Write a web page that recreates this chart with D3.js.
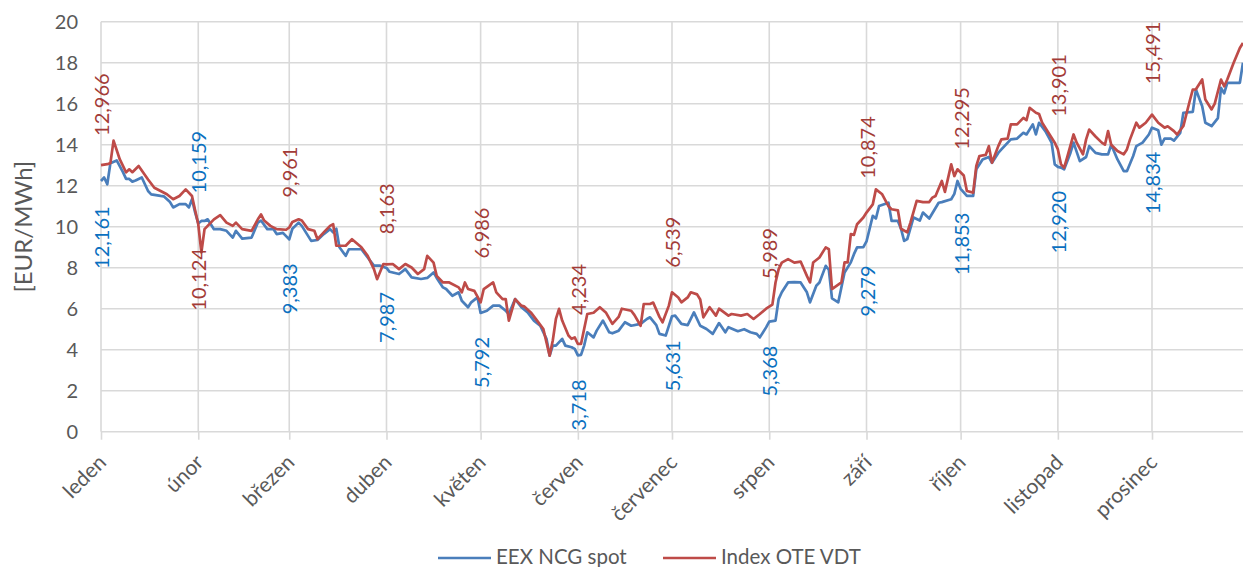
<!DOCTYPE html>
<html><head><meta charset="utf-8">
<script src="https://cdn.jsdelivr.net/npm/d3@7"></script>
<style>
body{margin:0;background:#fff}
svg{display:block}
text{font-family:Lato,"Liberation Sans",sans-serif}
</style>
</head><body>
<svg id="c" width="1243" height="567"></svg>
<script>
const months = ["leden","únor","březen","duben","květen","červen","červenec","srpen","září","říjen","listopad","prosinec"];
const monthStartDay = [0,31,60,91,121,152,182,213,244,274,305,335];
const yTicks = [0,2,4,6,8,10,12,14,16,18,20];
const seriesNames = ["EEX NCG spot","Index OTE VDT"];

// Index OTE VDT (day of year 2016, EUR/MWh)
const oteDays = [0,2,3,4,6,8,9,10,12,15,17,19,21,23,25,27,29,30,31,32,33,36,38,40,42,43,45,48,50,51,52,54,56,59,60,61,63,64,66,68,69,71,73,74,75,78,80,83,85,87,88,90,91,93,95,97,99,101,103,104,106,107,109,111,114,115,116,117,119,121,122,125,126,128,129,130,132,134,135,137,139,141,142,143,144,145,146,147,149,150,151,152,153,154,155,157,159,161,163,165,166,169,170,172,173,175,176,178,179,181,182,184,185,187,188,190,191,192,194,196,197,200,201,204,206,208,210,212,214,215,216,217,219,221,223,225,226,227,229,231,232,233,236,237,238,239,240,241,243,244,246,247,249,251,252,254,255,257,258,260,262,264,265,266,268,269,271,272,273,275,276,278,279,280,282,283,284,286,287,289,290,292,294,295,296,298,299,300,302,304,305,306,307,308,310,311,313,314,315,317,319,320,321,322,324,326,327,328,330,331,333,335,337,339,340,342,343,345,347,348,349,351,352,354,355,357,358,359,361,363,364];
const oteVals = [13.0,13.05,13.1,14.2,13.28,12.65,12.8,12.66,12.96,12.3,11.9,11.74,11.58,11.34,11.5,11.82,11.5,10.8,10.12,8.75,9.88,10.36,10.56,10.2,10.04,10.2,9.88,9.8,10.36,10.6,10.3,10.04,9.88,9.85,9.96,10.23,10.36,10.3,9.88,9.8,9.39,9.72,10.04,10.12,9.07,9.07,9.39,9.0,8.58,7.93,7.44,8.18,8.16,8.18,7.93,8.18,8.01,7.69,7.93,8.58,8.25,7.6,7.28,7.28,7.04,6.8,7.28,6.96,6.87,6.31,6.96,7.28,6.8,6.47,6.47,5.42,6.47,6.15,6.1,5.82,5.42,5.01,4.36,3.71,4.45,5.5,5.99,5.42,4.69,4.53,4.6,4.28,4.28,5.01,5.74,5.8,6.07,5.8,5.26,5.6,6.0,5.9,5.7,5.17,6.23,6.23,6.3,5.6,5.34,6.15,6.8,6.55,6.31,6.55,6.8,6.7,6.45,5.58,6.07,5.66,6.0,5.66,5.74,5.66,5.74,5.5,5.74,6.0,6.2,7.28,7.93,8.25,8.42,8.25,8.3,7.6,7.28,8.25,8.5,8.99,8.9,6.96,7.28,8.26,8.26,9.64,9.6,10.12,10.45,10.69,11.09,11.82,11.58,11.0,10.85,10.8,9.9,9.72,10.2,11.26,11.2,11.2,11.42,11.5,12.23,11.7,13.04,12.47,12.8,12.5,11.74,11.66,12.96,13.45,13.5,13.93,13.12,13.93,14.26,14.3,14.99,14.99,15.31,15.2,15.8,15.56,15.5,15.07,14.58,14.1,13.77,13.04,12.88,13.4,14.5,14.1,13.53,14.26,14.74,14.4,14.1,14.0,14.66,14.0,13.69,13.53,13.77,14.26,15.07,14.83,15.07,15.47,15.07,14.83,14.9,14.66,14.5,14.91,16.12,16.69,16.7,17.18,16.2,15.72,16.0,17.18,16.85,17.18,17.99,18.72,18.96];

// EEX NCG spot
const eexDays = [0,1,2,3,5,7,8,9,10,11,13,15,16,19,20,22,23,25,27,28,29,30,31,32,33,34,36,38,40,42,43,45,48,50,51,53,55,56,58,60,61,63,64,67,69,71,73,74,75,76,78,79,80,83,85,87,89,91,92,95,97,99,102,104,106,107,109,110,112,114,115,117,118,120,121,123,125,127,129,130,132,134,136,138,140,142,143,144,145,147,148,150,151,152,153,154,155,157,158,160,162,163,165,167,169,172,174,175,177,178,180,182,183,185,187,189,191,193,195,197,199,200,203,205,207,209,210,212,213,215,216,217,219,221,223,225,226,228,229,231,232,233,235,237,239,240,241,243,244,246,247,248,251,252,254,255,256,257,259,261,262,264,267,268,271,272,273,274,276,278,279,281,283,284,286,287,290,292,294,295,297,298,299,301,303,304,305,306,307,309,310,312,314,315,317,319,321,322,324,326,327,329,330,332,334,335,337,338,339,341,342,344,345,348,349,351,352,354,356,357,358,359,361,363,364];
const eexVals = [12.23,12.4,12.07,13.1,13.23,12.66,12.33,12.33,12.2,12.25,12.4,11.74,11.58,11.5,11.48,11.2,10.94,11.1,11.1,10.94,11.34,10.7,10.16,10.28,10.28,10.36,9.88,9.88,9.8,9.47,9.8,9.42,9.47,10.2,10.3,9.88,9.88,9.64,9.7,9.38,9.9,10.2,10.04,9.31,9.35,9.64,9.88,9.72,9.9,9.0,8.58,8.9,8.9,8.9,8.5,8.1,8.1,7.99,7.8,7.69,7.93,7.53,7.45,7.5,7.77,7.5,7.04,6.96,6.63,6.8,6.39,6.07,6.31,6.55,5.79,5.9,6.15,6.15,5.9,5.74,6.47,6.07,5.82,5.42,5.17,4.53,3.71,4.2,4.2,4.53,4.2,4.12,4.04,3.72,3.75,4.2,4.85,4.6,4.93,5.42,4.85,4.8,4.93,5.34,5.17,5.26,5.5,5.58,5.2,4.77,4.69,5.63,5.66,5.26,5.2,5.82,5.17,5.01,4.77,5.3,4.85,5.1,4.9,5.0,4.85,4.77,4.6,5.09,5.37,5.42,6.47,6.8,7.28,7.3,7.28,6.8,6.31,7.12,7.28,8.09,7.9,6.5,6.31,7.77,8.26,8.66,8.99,9.0,9.28,10.53,10.4,11.01,11.17,10.28,10.28,9.9,9.31,9.4,10.45,10.3,10.69,10.4,11.17,11.2,11.34,11.6,12.23,11.85,11.5,11.5,12.8,13.28,13.4,13.12,13.6,13.77,14.26,14.3,14.58,14.5,14.99,14.5,15.07,14.66,14.1,13.04,12.92,12.88,12.8,13.6,14.1,13.2,13.4,13.93,13.6,13.53,13.53,14.0,13.28,12.71,12.71,13.45,13.93,14.1,14.5,14.83,14.7,14.0,14.3,14.3,14.2,14.58,15.56,15.6,16.69,15.88,15.07,14.91,15.3,16.77,16.5,17.02,17.02,17.02,18.0];

// month-start data labels
const labelOte = [12.966,10.124,9.961,8.163,6.986,4.234,6.539,5.989,10.874,12.295,13.901,15.491];
const labelEex = [12.161,10.159,9.383,7.987,5.792,3.718,5.631,5.368,9.279,11.853,12.920,14.834];

const W = 1243, H = 567;
const svg = d3.select("#c");
const gridC = "#d9d9d9", textC = "#595959";
const blue = "#4a7ebb", red = "#be4b48";
const blueLbl = "#0a70c0", redLbl = "#a33b37";

const x = d3.scaleLinear().domain([0, 366]).range([101, 101 + 366 * 3.1373]);
const y = d3.scaleLinear().domain([0, 20]).range([431.7, 21.7]);

// horizontal grid
svg.append("g").selectAll("line").data(yTicks).join("line")
  .attr("x1", x(0)).attr("x2", W)
  .attr("y1", d => y(d)).attr("y2", d => y(d))
  .attr("stroke", gridC).attr("stroke-width", 1.6);

// vertical grid (month starts)
svg.append("g").selectAll("line").data(monthStartDay).join("line")
  .attr("x1", d => x(d)).attr("x2", d => x(d))
  .attr("y1", y(20)).attr("y2", y(0))
  .attr("stroke", gridC).attr("stroke-width", 1.6);

// y axis
const ya = svg.append("g").attr("transform", `translate(${x(0)},0)`)
  .call(d3.axisLeft(y).tickValues(yTicks).tickSize(0).tickPadding(23));
ya.select(".domain").remove();
ya.selectAll("text").attr("font-size", 20).attr("fill", textC).attr("font-family", "Lato, 'Liberation Sans', sans-serif");

// x axis
const xa = svg.append("g").attr("transform", `translate(0,${y(0)})`)
  .call(d3.axisBottom(x).tickValues(monthStartDay).tickSize(8).tickFormat((d, i) => months[i]));
xa.select(".domain").remove();
xa.selectAll(".tick line").attr("stroke", gridC).attr("stroke-width", 1.6);
xa.selectAll("text")
  .attr("x", 0).attr("y", 0).attr("dy", null)
  .attr("text-anchor", "end")
  .attr("transform", "translate(6,32) rotate(-45)")
  .attr("font-size", 21).attr("fill", textC).attr("font-family", "Lato, 'Liberation Sans', sans-serif");

// axis title
svg.append("text")
  .attr("transform", `translate(32,${(y(0) + y(20)) / 2}) rotate(-90)`)
  .attr("text-anchor", "middle")
  .attr("font-size", 24).attr("fill", textC)
  .text("[EUR/MWh]");

// lines
const line = d3.line().x(d => x(d[0])).y(d => y(d[1]));
const eex = eexDays.map((d, i) => [d, eexVals[i]]);
const ote = oteDays.map((d, i) => [d, oteVals[i]]);
svg.append("path").datum(eex).attr("d", line).attr("fill", "none")
  .attr("stroke", blue).attr("stroke-width", 2.7).attr("stroke-linejoin", "round");
svg.append("path").datum(ote).attr("d", line).attr("fill", "none")
  .attr("stroke", red).attr("stroke-width", 2.7).attr("stroke-linejoin", "round");

// data labels
const fmt = v => v.toFixed(3).replace(".", ",");
const lbl = svg.append("g").attr("font-size", 20);
monthStartDay.forEach((d, i) => {
  const vals = [{v: labelEex[i], c: blueLbl}, {v: labelOte[i], c: redLbl}];
  const hi = vals[0].v >= vals[1].v ? 0 : 1;
  vals.forEach((o, j) => {
    const above = j === hi;
    const py = y(o.v);
    const ty = above ? py - 30 : py + 24;
    lbl.append("text")
      .attr("transform", `translate(${x(d) + 8},${ty}) rotate(-90)`)
      .attr("text-anchor", above ? "start" : "end")
      .attr("fill", o.c)
      .text(fmt(o.v));
  });
});

// legend
const leg = svg.append("g");
const legItems = [{n: seriesNames[0], c: blue, x0: 438}, {n: seriesNames[1], c: red, x0: 663}];
legItems.forEach(it => {
  leg.append("line").attr("x1", it.x0).attr("x2", it.x0 + 53).attr("y1", 558).attr("y2", 558)
    .attr("stroke", it.c).attr("stroke-width", 2.7);
  leg.append("text").attr("x", it.x0 + 58).attr("y", 564)
    .attr("font-size", 20.5).attr("fill", textC).text(it.n);
});
</script>
</body></html>
